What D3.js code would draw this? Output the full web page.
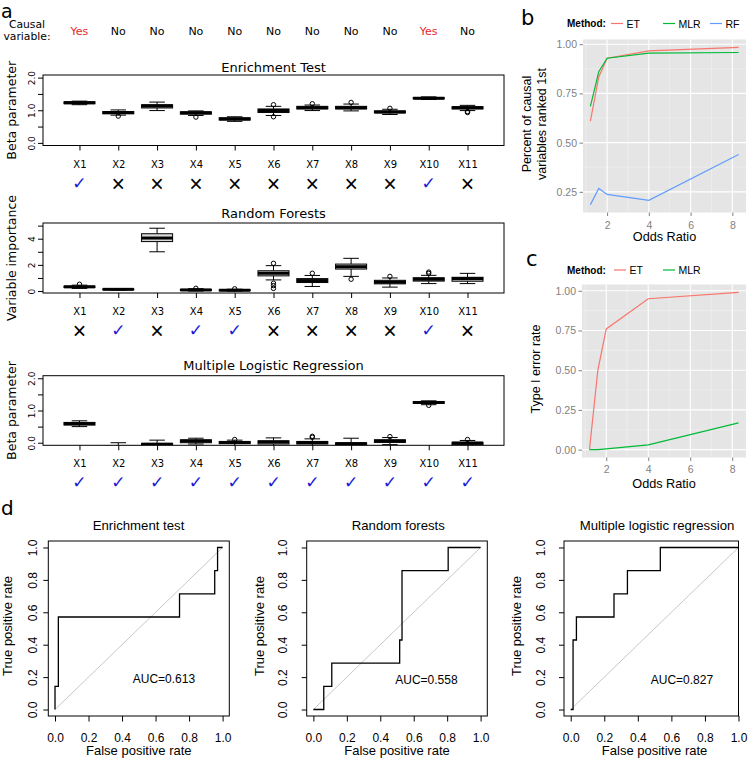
<!DOCTYPE html>
<html><head><meta charset="utf-8">
<script src="https://cdn.jsdelivr.net/npm/d3@7"></script>
<style>body{margin:0;background:#fff}</style>
</head><body><svg id="c" width="748" height="763" xmlns="http://www.w3.org/2000/svg"></svg>
<script>
// ---------------- DATA ----------------
const categories = ["X1","X2","X3","X4","X5","X6","X7","X8","X9","X10","X11"];
const causal = ["Yes","No","No","No","No","No","No","No","No","Yes","No"];

// box stats: [lowerWhisker, Q1, median, Q3, upperWhisker]
const etBoxes = [[1.17,1.20,1.23,1.26,1.28],[0.85,0.89,0.93,0.96,1.01],[0.99,1.07,1.13,1.17,1.25],[0.84,0.88,0.92,0.95,0.98],[0.66,0.70,0.73,0.77,0.80],[0.84,0.93,0.99,1.04,1.12],[0.99,1.04,1.08,1.12,1.16],[0.98,1.04,1.08,1.12,1.19],[0.87,0.92,0.95,0.98,1.03],[1.33,1.35,1.37,1.39,1.41],[0.99,1.04,1.08,1.11,1.15]];
const etOutliers = [[],[0.82],[],[0.79],[],[0.80,1.17],[1.20],[1.24],[1.06],[],[0.93,0.96]];
const etCorrect = [1,0,0,0,0,0,0,0,0,1,0];

const rfBoxes = [[0.20,0.27,0.32,0.38,0.45],[0.07,0.10,0.13,0.16,0.19],[3.00,3.78,4.05,4.38,4.80],[0.00,0.04,0.08,0.13,0.18],[0.00,0.03,0.06,0.10,0.14],[0.85,1.16,1.35,1.55,1.94],[0.35,0.65,0.80,0.95,1.19],[1.12,1.68,1.86,2.06,2.50],[0.30,0.55,0.68,0.82,1.00],[0.57,0.76,0.90,1.02,1.20],[0.57,0.75,0.95,1.05,1.35]];
const rfOutliers = [[0.52],[],[],[0.21],[0.17],[2.12,0.60,0.42,0.20],[1.36],[0.90],[1.12],[1.35,1.45],[]];
const rfCorrect = [0,1,0,1,1,0,0,0,0,1,0];

const mlrBoxes = [[0.50,0.55,0.59,0.63,0.68],[-0.45,-0.30,-0.20,-0.10,0.00],[-0.20,-0.12,-0.05,-0.02,0.08],[-0.04,0.00,0.05,0.09,0.14],[-0.10,-0.03,0.01,0.04,0.08],[-0.12,-0.04,0.02,0.06,0.15],[-0.12,-0.04,0.01,0.04,0.12],[-0.20,-0.10,-0.03,0.00,0.14],[-0.06,0.01,0.05,0.09,0.16],[1.18,1.22,1.25,1.28,1.30],[-0.10,-0.06,-0.01,0.01,0.07]];
const mlrOutliers = [[],[],[],[],[0.10],[],[0.17,0.20],[],[0.19],[1.16],[0.10]];
const mlrCorrect = [1,1,1,1,1,1,1,1,1,1,1];

const oddsRatios = [1.2,1.6,2,4,8.3];
const rankedET  = [0.609,0.834,0.929,0.966,0.984];
const rankedMLR = [0.684,0.860,0.929,0.955,0.958];
const rankedRF  = [0.185,0.267,0.237,0.207,0.440];
const typeIET   = [0.00,0.50,0.76,0.95,0.99];
const typeIMLR  = [0.00,0.00,0.005,0.03,0.168];

const rocEtFpr  = [0,0,0.02,0.02,0.743,0.743,0.953,0.953,0.97,0.97,1];
const rocEtTpr  = [0,0.143,0.143,0.571,0.571,0.714,0.714,0.857,0.857,1,1];
const rocRfFpr  = [0,0.062,0.062,0.11,0.11,0.516,0.516,0.53,0.53,0.806,0.806,1];
const rocRfTpr  = [0,0,0.143,0.143,0.286,0.286,0.429,0.429,0.857,0.857,1,1];
const rocMlrFpr = [0,0.014,0.014,0.034,0.034,0.258,0.258,0.338,0.338,0.534,0.534,1];
const rocMlrTpr = [0,0,0.429,0.429,0.571,0.571,0.714,0.714,0.857,0.857,1,1];
const aucLabels = ["AUC=0.613","AUC=0.558","AUC=0.827"];

// ---------------- DRAWING ----------------
const svg = d3.select("#c");
svg.append("rect").attr("width",748).attr("height",763).attr("fill","#fff");
const FA = "DejaVu Sans, sans-serif";
const FH = "Liberation Sans, Arial, Helvetica, sans-serif";

function txt(g, x, y, s, size, opts = {}) {
  const t = g.append("text").attr("x", x).attr("y", y).text(s)
    .style("font-family", opts.family || FA).style("font-size", size + "px")
    .attr("fill", opts.fill || "#000").attr("text-anchor", opts.anchor || "start");
  if (opts.weight) t.style("font-weight", opts.weight);
  if (opts.rotate) t.attr("transform", `rotate(-90,${x},${y})`);
  return t;
}

// ---- Panel a ----
txt(svg, 1, 17.8, "a", 19);
txt(svg, 27, 27.5, "Causal", 10.8, {anchor: "middle"});
txt(svg, 27, 40, "variable:", 10.8, {anchor: "middle"});

const xA = d3.scaleLinear().domain([0.06, 11.94]).range([43, 504]);
causal.forEach((c, i) => txt(svg, xA(i + 1), 35, c, 11, {anchor: "middle", fill: c === "Yes" ? "#e8262b" : "#000"}));

let clipN = 0;
function boxPanel(cfg) {
  const y = d3.scaleLinear().domain(cfg.yDomain).range(cfg.yRange);
  const g = svg.append("g");
  const top = cfg.yRange[1], bot = cfg.yRange[0];
  const id = "clipA" + (clipN++);
  g.append("clipPath").attr("id", id).append("rect")
    .attr("x", 43).attr("y", top).attr("width", 461).attr("height", bot - top);
  const gp = g.append("g").attr("clip-path", `url(#${id})`);
  const hw = xA(1.4) - xA(1);
  cfg.boxes.forEach((b, i) => {
    const cx = xA(i + 1);
    gp.append("line").attr("x1", cx).attr("x2", cx).attr("y1", y(b[0])).attr("y2", y(b[1])).attr("stroke", "#000");
    gp.append("line").attr("x1", cx).attr("x2", cx).attr("y1", y(b[3])).attr("y2", y(b[4])).attr("stroke", "#000");
    [b[0], b[4]].forEach(v => gp.append("line").attr("x1", cx - hw / 2).attr("x2", cx + hw / 2)
      .attr("y1", y(v)).attr("y2", y(v)).attr("stroke", "#000"));
    gp.append("rect").attr("x", cx - hw).attr("width", 2 * hw).attr("y", y(b[3])).attr("height", y(b[1]) - y(b[3]))
      .attr("fill", "#d9d9d9").attr("stroke", "#000");
    gp.append("line").attr("x1", cx - hw).attr("x2", cx + hw).attr("y1", y(b[2])).attr("y2", y(b[2]))
      .attr("stroke", "#000").attr("stroke-width", 3);
    cfg.outliers[i].forEach(v => gp.append("circle").attr("cx", cx).attr("cy", y(v)).attr("r", 2.2)
      .attr("fill", "none").attr("stroke", "#000"));
  });
  g.append("rect").attr("x", 43).attr("y", top).attr("width", 461).attr("height", bot - top)
    .attr("fill", "none").attr("stroke", "#000");
  // y axis
  const ya = g.append("g").attr("transform", "translate(43,0)")
    .call(d3.axisLeft(y).tickValues(cfg.yTicks).tickSize(5).tickSizeOuter(0).tickFormat(cfg.yFmt));
  ya.select(".domain").remove();
  ya.selectAll("text").attr("x", 0).attr("dy", 0).attr("text-anchor", "middle")
    .attr("transform", "translate(-8,0) rotate(-90)").style("font-family", FA).style("font-size", "9px");
  // x axis
  const xa = g.append("g").attr("transform", `translate(0,${bot})`)
    .call(d3.axisBottom(xA).tickValues(d3.range(1, 12)).tickSize(5).tickSizeOuter(0).tickFormat(i => categories[i - 1]));
  xa.select(".domain").remove();
  xa.selectAll("text").attr("y", cfg.xLabY - bot).attr("dy", 0).style("font-family", FA).style("font-size", "10px");
  // title and y label
  txt(g, 273.5, cfg.titleY, cfg.title, 13, {anchor: "middle"});
  txt(g, 15.5, (top + bot) / 2, cfg.ylab, 12.5, {anchor: "middle", rotate: true});
  // correctness marks
  cfg.correct.forEach((c, i) => {
    if (c) {
      txt(g, xA(i + 1), cfg.markY, "\u2713", 17, {anchor: "middle", fill: "#1a1ad8"}).attr("dominant-baseline", "central");
    } else {
      txt(g, xA(i + 1), cfg.markY + 1, "\u00D7", 23, {anchor: "middle", family: "Liberation Sans, Arial, sans-serif"})
        .attr("dominant-baseline", "central");
    }
  });
}

boxPanel({boxes: etBoxes, outliers: etOutliers, correct: etCorrect, yDomain: [-0.08, 2.08], yRange: [145.5, 75],
  yTicks: [0, 0.5, 1, 1.5, 2], yFmt: d => (d % 1 === 0 ? d3.format(".1f")(d) : ""),
  title: "Enrichment Test", titleY: 71.5, ylab: "Beta parameter", xLabY: 167.5, markY: 183});
boxPanel({boxes: rfBoxes, outliers: rfOutliers, correct: rfCorrect, yDomain: [-0.15, 5.2], yRange: [293, 223],
  yTicks: [0, 1, 2, 3, 4, 5], yFmt: d => (d % 2 === 0 ? d : ""),
  title: "Random Forests", titleY: 218, ylab: "Variable importance", xLabY: 315, markY: 329.5});
boxPanel({boxes: mlrBoxes, outliers: mlrOutliers, correct: mlrCorrect, yDomain: [-0.08, 2.08], yRange: [445.3, 375.7],
  yTicks: [0, 0.5, 1, 1.5, 2], yFmt: d => (d % 1 === 0 ? d3.format(".1f")(d) : ""),
  title: "Multiple Logistic Regression", titleY: 369.5, ylab: "Beta parameter", xLabY: 466.7, markY: 481.5});

// ---- Panels b, c (ggplot style) ----
const methodColors = {ET: "#F8766D", MLR: "#00BA38", RF: "#619CFF"};
function ggPanel(cfg) {
  const g = svg.append("g");
  const ext = d3.extent(oddsRatios), px = (ext[1] - ext[0]) * 0.05;
  const x = d3.scaleLinear().domain([ext[0] - px, ext[1] + px]).range(cfg.xRange);
  const all = cfg.series.flatMap(s => s.values);
  const ye = d3.extent(all), py = (ye[1] - ye[0]) * 0.05;
  const y = d3.scaleLinear().domain([ye[0] - py, ye[1] + py]).range(cfg.yRange);
  const [x0, x1] = cfg.xRange, [y0, y1] = cfg.yRange;
  g.append("rect").attr("x", x0).attr("y", y1).attr("width", x1 - x0).attr("height", y0 - y1).attr("fill", "#E5E5E5");
  const inY = v => v > y.domain()[0] && v < y.domain()[1];
  const inX = v => v > x.domain()[0] && v < x.domain()[1];
  cfg.yMinor.filter(inY).forEach(v => g.append("line").attr("x1", x0).attr("x2", x1).attr("y1", y(v)).attr("y2", y(v)).attr("stroke", "#F2F2F2").attr("stroke-width", 0.6));
  [1, 3, 5, 7, 9].filter(inX).forEach(v => g.append("line").attr("y1", y0).attr("y2", y1).attr("x1", x(v)).attr("x2", x(v)).attr("stroke", "#F2F2F2").attr("stroke-width", 0.6));
  cfg.yTicks.forEach(v => g.append("line").attr("x1", x0).attr("x2", x1).attr("y1", y(v)).attr("y2", y(v)).attr("stroke", "#fff").attr("stroke-width", 1.1));
  [2, 4, 6, 8].forEach(v => g.append("line").attr("y1", y0).attr("y2", y1).attr("x1", x(v)).attr("x2", x(v)).attr("stroke", "#fff").attr("stroke-width", 1.1));
  const line = d3.line().x((d, i) => x(oddsRatios[i])).y(d => y(d));
  cfg.series.forEach(s => g.append("path").attr("d", line(s.values)).attr("fill", "none").attr("stroke", methodColors[s.name]).attr("stroke-width", 1.2));
  const ya = g.append("g").attr("transform", `translate(${x0},0)`)
    .call(d3.axisLeft(y).tickValues(cfg.yTicks).tickSize(3.5).tickSizeOuter(0).tickPadding(2.5).tickFormat(d3.format(".2f")));
  ya.select(".domain").remove();
  ya.selectAll("line").attr("stroke", "#7F7F7F");
  ya.selectAll("text").attr("fill", "#7F7F7F").style("font-family", FH).style("font-size", "10.5px");
  const xa = g.append("g").attr("transform", `translate(0,${y0})`)
    .call(d3.axisBottom(x).tickValues([2, 4, 6, 8]).tickSize(3.5).tickSizeOuter(0).tickFormat(d3.format("d")));
  xa.select(".domain").remove();
  xa.selectAll("line").attr("stroke", "#7F7F7F");
  xa.selectAll("text").attr("y", cfg.xTickY - y0).attr("dy", 0).attr("fill", "#7F7F7F").style("font-family", FH).style("font-size", "10.5px");
  txt(g, (x0 + x1) / 2, cfg.xTitleY, "Odds Ratio", 12.7, {anchor: "middle", family: FH});
  cfg.yTitle.forEach((t, i) => txt(g, cfg.yTitleX[i], cfg.yTitleC, t, 12.5, {anchor: "middle", family: FH, rotate: true}));
  txt(g, cfg.letter[1], cfg.letter[2], cfg.letter[0], 21);
  // legend
  txt(g, 567, cfg.legY, "Method:", 10, {family: FH, weight: "bold"}).attr("dominant-baseline", "central");
  cfg.series.forEach((s, i) => {
    const lx = cfg.legX[i];
    g.append("line").attr("x1", lx).attr("x2", lx + 12).attr("y1", cfg.legY).attr("y2", cfg.legY).attr("stroke", methodColors[s.name]).attr("stroke-width", 1.2);
    txt(g, lx + 15.5, cfg.legY, s.name, 10.5, {family: FH}).attr("dominant-baseline", "central");
  });
}
ggPanel({xRange: [583, 746], yRange: [212.5, 39.5],
  series: [{name: "ET", values: rankedET}, {name: "MLR", values: rankedMLR}, {name: "RF", values: rankedRF}],
  yTicks: [0.25, 0.5, 0.75, 1], yMinor: [0.125, 0.375, 0.625, 0.875, 1.125], xTickY: 228.5, xTitleY: 240.5,
  yTitle: ["Percent of causal", "variables ranked 1st"], yTitleX: [531, 546], yTitleC: 124,
  letter: ["b", 521, 25], legY: 23.5, legX: [611, 663, 710]});
ggPanel({xRange: [582, 746], yRange: [457.5, 284.5],
  series: [{name: "ET", values: typeIET}, {name: "MLR", values: typeIMLR}],
  yTicks: [0, 0.25, 0.5, 0.75, 1], yMinor: [0.125, 0.375, 0.625, 0.875], xTickY: 473, xTitleY: 488,
  yTitle: ["Type I error rate"], yTitleX: [539.5], yTitleC: 369,
  letter: ["c", 526, 266], legY: 270, legX: [614, 663]});

// ---- Panel d ----
txt(svg, 1, 515, "d", 20);
function rocPanel(cfg) {
  const g = svg.append("g");
  const x = d3.scaleLinear().domain(cfg.xDomain).range(cfg.xRange);
  const y = d3.scaleLinear().domain([-0.04, 1.04]).range([716, 541]);
  const [x0, x1] = cfg.xRange;
  g.append("line").attr("x1", x(0)).attr("y1", y(0)).attr("x2", x(1)).attr("y2", y(1)).attr("stroke", "#c8c8c8").attr("stroke-width", 1);
  const line = d3.line().x((d, i) => x(cfg.fpr[i])).y(d => y(d));
  g.append("path").attr("d", line(cfg.tpr)).attr("fill", "none").attr("stroke", "#000").attr("stroke-width", 1.3);
  g.append("rect").attr("x", x0).attr("y", 541).attr("width", x1 - x0).attr("height", 175).attr("fill", "none").attr("stroke", "#000");
  const ticks = [0, 0.2, 0.4, 0.6, 0.8, 1];
  const xa = g.append("g").attr("transform", "translate(0,716)")
    .call(d3.axisBottom(x).tickValues(ticks).tickSize(5.5).tickSizeOuter(0).tickFormat(d3.format(".1f")));
  xa.select(".domain").remove();
  xa.selectAll("text").attr("y", 741.5 - 716).attr("dy", 0).style("font-family", FH).style("font-size", "12px");
  const ya = g.append("g").attr("transform", `translate(${x0},0)`)
    .call(d3.axisLeft(y).tickValues(ticks).tickSize(5).tickSizeOuter(0).tickFormat(d3.format(".1f")));
  ya.select(".domain").remove();
  ya.selectAll("text").attr("x", 0).attr("dy", 0).attr("text-anchor", "middle")
    .attr("transform", `translate(${cfg.yTickX - x0},0) rotate(-90)`).style("font-family", FH).style("font-size", "12px");
  txt(g, cfg.titleX, 529.5, cfg.title, 13.2, {anchor: "middle", family: FH});
  txt(g, (x(0) + x(1)) / 2, 755, "False positive rate", 13, {anchor: "middle", family: FH});
  txt(g, cfg.yTitleX, 626, "True positive rate", 13, {anchor: "middle", family: FH, rotate: true});
  txt(g, x(cfg.aucPos[0]), y(cfg.aucPos[1]), cfg.auc, 12, {anchor: "middle", family: FH}).attr("dominant-baseline", "central");
}
rocPanel({xDomain: [-0.04, 1.04], xRange: [48.3, 229.3], fpr: rocEtFpr, tpr: rocEtTpr, title: "Enrichment test", titleX: 138.5,
  yTickX: 36.7, yTitleX: 11.5, auc: aucLabels[0], aucPos: [0.65, 0.19]});
rocPanel({xDomain: [-0.04, 1.04], xRange: [306.7, 487.3], fpr: rocRfFpr, tpr: rocRfTpr, title: "Random forests", titleX: 398.3,
  yTickX: 286.5, yTitleX: 263.5, auc: aucLabels[1], aucPos: [0.676, 0.18]});
rocPanel({xDomain: [-0.04, 1.0], xRange: [564, 738.5], fpr: rocMlrFpr, tpr: rocMlrTpr, title: "Multiple logistic regression", titleX: 657,
  yTickX: 545, yTitleX: 520.5, auc: aucLabels[2], aucPos: [0.663, 0.18]});
</script></body></html>
